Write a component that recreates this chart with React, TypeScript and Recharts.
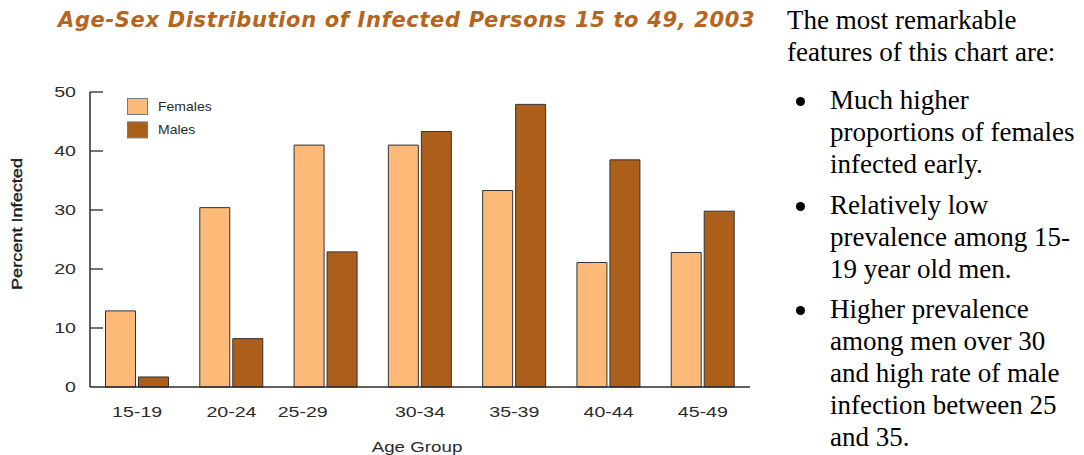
import { BarChart, Bar, XAxis, YAxis, Label } from 'recharts'

const ageGroups = ['15-19', '20-24', '25-29', '30-34', '35-39', '40-44', '45-49']
const females = [12.9, 30.4, 41.0, 41.0, 33.3, 21.1, 22.8]
const males = [1.7, 8.2, 22.9, 43.3, 47.9, 38.5, 29.8]
const yTicks = [0, 10, 20, 30, 40, 50]

const FEMALE = '#FDB977'
const MALE = '#AB5F1B'
const INK = '#2b2b2b'

const series = [
  { name: 'Females', color: FEMALE },
  { name: 'Males', color: MALE },
]

// the 25-29 label sits a little left of its bars
const labelShift: Record<string, number> = { '25-29': -23 }

const data = ageGroups.map((g, i) => ({ group: g, Females: females[i], Males: males[i] }))

const axisFont = 'Arial, "Liberation Sans", Helvetica, sans-serif'

const YTick = ({ x, y, payload }: any) => (
  <g>
    <text
      transform={`translate(${x - 14},${y}) scale(1.4,1)`}
      textAnchor="end"
      dominantBaseline="central"
      fontSize={14}
      fontFamily={axisFont}
      fill={INK}
    >
      {payload.value}
    </text>
    {payload.value > 0 && <line x1={x} x2={x + 13} y1={y} y2={y} stroke={INK} strokeWidth={1.3} />}
  </g>
)

const XTick = ({ x, y, payload }: any) => (
  <text
    transform={`translate(${x + (labelShift[payload.value] ?? 0)},${y + 30}) scale(1.4,1)`}
    textAnchor="middle"
    fontSize={14}
    fontFamily={axisFont}
    fill={INK}
  >
    {payload.value}
  </text>
)

const XTitle = ({ viewBox }: any) => (
  <text
    transform={`translate(${viewBox.x + viewBox.width / 2 - 3},${viewBox.y + 65}) scale(1.25,1)`}
    textAnchor="middle"
    fontSize={15}
    fontFamily={axisFont}
    fill={INK}
  >
    Age Group
  </text>
)

// y title and legend are overlays so they don't eat into the plot area
const YTitle = () => (
  <svg width={40} height={455} style={{ position: 'absolute', left: 0, top: 0 }}>
    <text
      transform="translate(17,224) rotate(-90) scale(1.17,1)"
      textAnchor="middle"
      dominantBaseline="central"
      fontSize={15.5}
      fontFamily={axisFont}
      fill="#1a1a1a"
      stroke="#1a1a1a"
      strokeWidth={0.4}
    >
      Percent Infected
    </text>
  </svg>
)

const LegendBox = () => (
  <svg width={110} height={46} style={{ position: 'absolute', left: 127, top: 98 }}>
    {series.map((s, i) => (
      <g key={s.name} transform={`translate(0,${i * 23.4})`}>
        <rect x={0.5} y={0.5} width={20} height={16} fill={s.color} stroke="#7a7a7a" strokeWidth={1} />
        <text
          transform="translate(31,8.5) scale(1.12,1)"
          dominantBaseline="central"
          fontSize={12.5}
          fontFamily={axisFont}
          fill={INK}
        >
          {s.name}
        </text>
      </g>
    ))}
  </svg>
)

const Bullet = ({ lines, gap }: { lines: string[]; gap: number }) => (
  <div style={{ position: 'relative', paddingLeft: 43, marginTop: gap }}>
    <span
      style={{
        position: 'absolute',
        left: 8.5,
        top: 12.5,
        width: 9,
        height: 9,
        borderRadius: '50%',
        background: '#000',
      }}
    />
    {lines.map((l) => (
      <div key={l}>{l}</div>
    ))}
  </div>
)

export default function App() {
  return (
    <div style={{ position: 'absolute', left: 0, top: 0, width: 1084, height: 455, background: '#fff' }}>
      <div
        style={{
          position: 'absolute',
          left: 58,
          top: 8,
          fontFamily: '"DejaVu Sans", Verdana, sans-serif',
          fontWeight: 'bold',
          fontStyle: 'italic',
          fontSize: 21,
          letterSpacing: 0.65,
          color: '#B5651D',
          whiteSpace: 'nowrap',
        }}
      >
        Age-Sex Distribution of Infected Persons 15 to 49, 2003
      </div>

      <div style={{ position: 'absolute', left: 0, top: 0 }}>
        <BarChart
          width={780}
          height={455}
          data={data}
          margin={{ top: 92, right: 30, left: 0, bottom: 0 }}
          barCategoryGap={15.5}
          barGap={3}
        >
          <XAxis
            dataKey="group"
            height={68}
            tickLine={false}
            tickSize={0}
            tickMargin={0}
            tick={<XTick />}
            axisLine={{ stroke: INK, strokeWidth: 1.5 }}
            interval={0}
          >
            <Label content={<XTitle />} />
          </XAxis>
          <YAxis
            width={90}
            domain={[0, 50]}
            ticks={yTicks}
            tickLine={false}
            tickSize={0}
            tickMargin={0}
            tick={<YTick />}
            axisLine={{ stroke: INK, strokeWidth: 1.5 }}
          />
          <Bar dataKey="Females" fill={FEMALE} stroke="#333" strokeWidth={1} isAnimationActive={false} />
          <Bar dataKey="Males" fill={MALE} stroke="#333" strokeWidth={1} isAnimationActive={false} />
        </BarChart>
        <YTitle />
        <LegendBox />
      </div>

      <div
        style={{
          position: 'absolute',
          left: 787,
          top: 4,
          fontFamily: '"Liberation Serif", "Times New Roman", serif',
          fontSize: 27,
          lineHeight: '32px',
          color: '#000',
          whiteSpace: 'nowrap',
        }}
      >
        <div>The most remarkable</div>
        <div>features of this chart are:</div>
        <Bullet gap={16} lines={['Much higher', 'proportions of females', 'infected early.']} />
        <Bullet gap={9} lines={['Relatively low', 'prevalence among 15-', '19 year old men.']} />
        <Bullet gap={8} lines={['Higher prevalence', 'among men over 30', 'and high rate of male', 'infection between 25', 'and 35.']} />
      </div>
    </div>
  )
}
